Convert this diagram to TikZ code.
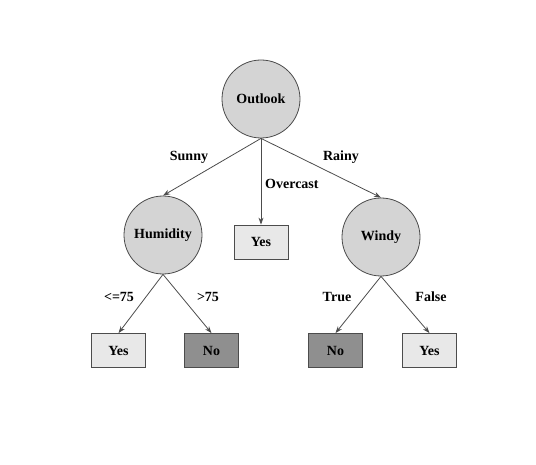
\documentclass[tikz,border=0pt]{standalone}
\usepackage{fontspec}
\setmainfont{Liberation Serif}
\usetikzlibrary{arrows.meta}
\definecolor{circfill}{gray}{0.83}
\definecolor{yesfill}{gray}{0.91}
\definecolor{nofill}{gray}{0.56}
\definecolor{linec}{gray}{0.3}
\tikzset{
  x=1pt, y=-1pt,
  every node/.style={font=\fontsize{14}{16}\selectfont\bfseries},
  attr/.style={circle, draw=linec, line width=0.8pt, fill=circfill, minimum size=78pt, inner sep=0pt},
  yesleaf/.style={rectangle, draw=linec, line width=0.8pt, fill=yesfill, minimum width=54pt, minimum height=34pt, inner sep=0pt},
  noleaf/.style={yesleaf, fill=nofill},
  edge/.style={draw=linec, line width=0.8pt, -{Stealth[length=7pt,width=5pt]}},
  lbl/.style={inner sep=0pt}
}
\begin{document}
\begin{tikzpicture}
\useasboundingbox (0,0) rectangle (536,465);
\node[attr] (outlook) at (261,99) {Outlook};
\node[attr] (humid) at (163,235) {Humidity};
\node[attr] (windy) at (381,237) {Windy};
\node[yesleaf] (yes1) at (261,242) {Yes};
\node[yesleaf] (yes2) at (118.5,350.5) {Yes};
\node[noleaf] (no1) at (211.5,350.5) {No};
\node[noleaf] (no2) at (335.5,350.5) {No};
\node[yesleaf] (yes3) at (429.5,350.5) {Yes};
\draw[edge] (outlook.south) -- (humid.north);
\draw[edge] (outlook.south) -- (yes1.north);
\draw[edge] (outlook.south) -- (windy.north);
\draw[edge] (humid.south) -- (yes2.north);
\draw[edge] (humid.south) -- (no1.north);
\draw[edge] (windy.south) -- (no2.north);
\draw[edge] (windy.south) -- (yes3.north);
\node[lbl] (lsunny) at (189,157) {Sunny};
\node[lbl] (lrainy) at (341,157) {Rainy};
\node[lbl, anchor=west] (lover) at (265,184) {Overcast};
\node[lbl] (lle) at (119,297) {<=75};
\node[lbl] (lgt) at (208,297) {>75};
\node[lbl] (ltrue) at (337,297) {True};
\node[lbl] (lfalse) at (431,297) {False};
\end{tikzpicture}
\end{document}
